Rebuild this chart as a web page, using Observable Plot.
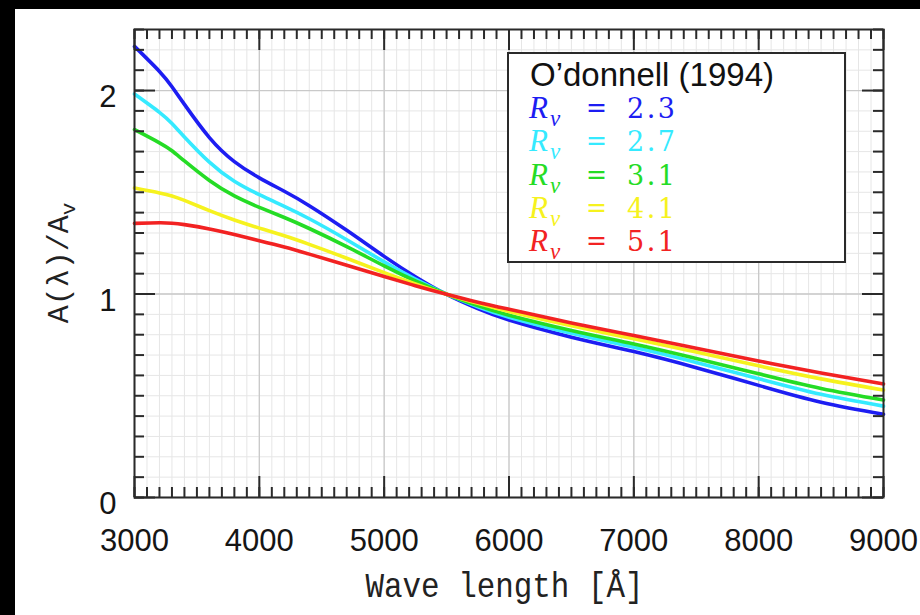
<!DOCTYPE html>
<html><head><meta charset="utf-8">
<script src="https://cdn.jsdelivr.net/npm/d3@7"></script>
<script src="https://cdn.jsdelivr.net/npm/@observablehq/plot@0.6"></script>
<style>
html,body{margin:0;padding:0;background:#000;width:920px;height:615px;overflow:hidden}
#wrap{position:absolute;left:15px;top:9px;width:905px;height:606px;background:#fff;overflow:hidden}
</style></head><body><div id="wrap"></div>
<script>
// Wavelength samples [Å]
const wavelengths = [3000,3200,3300,3400,3600,3800,4000,4200,4400,4700,5000,5250,5500,5750,6000,6500,7000,7500,8000,8500,9000];
// A(λ)/A_V read for each R_V
const rv23 = [2.217,2.094,2.019,1.932,1.769,1.651,1.571,1.505,1.434,1.313,1.185,1.085,0.998,0.928,0.872,0.788,0.717,0.638,0.551,0.468,0.409];
const rv27 = [1.983,1.893,1.838,1.772,1.648,1.554,1.488,1.431,1.370,1.267,1.158,1.073,0.999,0.937,0.886,0.807,0.738,0.664,0.584,0.507,0.449];
const rv31 = [1.808,1.743,1.704,1.654,1.558,1.482,1.426,1.376,1.322,1.233,1.138,1.064,0.999,0.943,0.896,0.821,0.754,0.683,0.608,0.536,0.479];
const rv41 = [1.521,1.497,1.482,1.460,1.410,1.364,1.324,1.286,1.244,1.176,1.105,1.050,0.999,0.954,0.914,0.844,0.780,0.715,0.647,0.583,0.528];
const rv51 = [1.347,1.350,1.348,1.341,1.320,1.292,1.262,1.231,1.196,1.141,1.086,1.041,0.999,0.960,0.925,0.858,0.796,0.734,0.671,0.612,0.558];
const rvLabels = ["2.3","2.7","3.1","4.1","5.1"];
const seriesColors = ["#1d1df2","#35eaff","#25dc25","#f6f21e","#f22222"];
const legendTitle = "O\u2019donnell (1994)";
const xLabel = "Wave length [\u00c5]";
const xMajorTicks = [3000,4000,5000,6000,7000,8000,9000];
const xMinorTicks = d3.range(30, 91).map(i => i * 100);
const yMajorTicks = [0,1,2];
const yMinorTicks = d3.range(0, 24).map(i => i / 10);

const seriesValues = [rv23, rv27, rv31, rv41, rv51];
const rows = [];
seriesValues.forEach((vals, s) => vals.forEach((v, i) => rows.push({w: wavelengths[i], v, rv: rvLabels[s]})));

const W = 905, H = 606, mL = 119, mR = 37, mT = 20, mB = 118;
const fw = W - mL - mR, fh = H - mT - mB;
const tickCol = "#2a2a2a";

const plot = Plot.plot({
  width: W, height: H,
  marginLeft: mL, marginRight: mR, marginTop: mT, marginBottom: mB,
  x: {domain: [3000, 9000]},
  y: {domain: [0, 2.3]},
  color: {domain: rvLabels, range: seriesColors},
  style: {background: "transparent", fontFamily: "'Liberation Sans', Arial, sans-serif", color: "#151515", overflow: "visible"},
  marks: [
    Plot.gridX(xMinorTicks, {stroke: "#e6e6e6", strokeOpacity: 1, strokeWidth: 1}),
    Plot.gridY(yMinorTicks, {stroke: "#e6e6e6", strokeOpacity: 1, strokeWidth: 1}),
    Plot.gridX(xMajorTicks, {stroke: "#c9c9c9", strokeOpacity: 1, strokeWidth: 1.3}),
    Plot.gridY(yMajorTicks, {stroke: "#c9c9c9", strokeOpacity: 1, strokeWidth: 1.3}),
    Plot.line(rows, {x: "w", y: "v", z: "rv", stroke: "rv", strokeWidth: 3.6, curve: "natural"}),
    Plot.tickX(xMinorTicks, {x: d => d, insetTop: fh - 10, stroke: tickCol, strokeWidth: 2}),
    Plot.tickX(xMinorTicks, {x: d => d, insetBottom: fh - 10, stroke: tickCol, strokeWidth: 2}),
    Plot.tickX(xMajorTicks, {x: d => d, insetTop: fh - 21, stroke: tickCol, strokeWidth: 2}),
    Plot.tickX(xMajorTicks, {x: d => d, insetBottom: fh - 21, stroke: tickCol, strokeWidth: 2}),
    Plot.tickY(yMinorTicks, {y: d => d, insetRight: fw - 10, stroke: tickCol, strokeWidth: 2}),
    Plot.tickY(yMinorTicks, {y: d => d, insetLeft: fw - 10, stroke: tickCol, strokeWidth: 2}),
    Plot.tickY(yMajorTicks, {y: d => d, insetRight: fw - 21, stroke: tickCol, strokeWidth: 2}),
    Plot.tickY(yMajorTicks, {y: d => d, insetLeft: fw - 21, stroke: tickCol, strokeWidth: 2}),
    Plot.frame({stroke: tickCol, strokeWidth: 2}),
    Plot.axisX(xMajorTicks, {anchor: "bottom", tickSize: 0, tickPadding: 31, fontSize: 31, label: null, tickFormat: d => String(d)}),
    Plot.axisY(yMajorTicks, {anchor: "left", tickSize: 0, tickPadding: 18, fontSize: 31, dy: 7, label: null, tickFormat: d => String(d)})
  ]
});

const svg = d3.select(plot);
// X axis title
svg.append("text")
  .attr("x", mL + fw / 2 - 4).attr("y", 588)
  .attr("text-anchor", "middle")
  .attr("font-family", "'Liberation Mono', 'DejaVu Sans Mono', monospace")
  .attr("font-size", 35)
  .attr("textLength", 278).attr("lengthAdjust", "spacingAndGlyphs")
  .attr("fill", "#222")
  .text(xLabel);
// Y axis title
const yt = svg.append("text")
  .attr("transform", `translate(53,${mT + 234}) rotate(-90)`)
  .attr("text-anchor", "middle")
  .attr("font-family", "'Liberation Mono', 'DejaVu Sans Mono', monospace")
  .attr("font-size", 30)
  .attr("fill", "#222");
yt.append("tspan").text("A(\u03bb)/A");
yt.append("tspan").attr("font-size", 21).attr("dy", 7).text("v");

// Legend box
const lg = svg.append("g").attr("text-anchor", "start");
lg.append("rect").attr("x", 493).attr("y", 44).attr("width", 337).attr("height", 209)
  .attr("fill", "#fff").attr("stroke", tickCol).attr("stroke-width", 2);
lg.append("text").attr("x", 515).attr("y", 77).attr("text-anchor", "start")
  .attr("font-family", "'Liberation Sans', Arial, sans-serif").attr("font-size", 33).attr("fill", "#111")
  .text(legendTitle);
rvLabels.forEach((lab, i) => {
  const by = 109 + i * 33.3;
  const g = lg.append("g").attr("fill", seriesColors[i]).attr("text-anchor", "start");
  g.append("text").attr("x", 514).attr("y", by)
    .attr("font-family", "'Liberation Serif', 'DejaVu Serif', serif").attr("font-style", "italic").attr("font-size", 31).text("R");
  g.append("text").attr("x", 535).attr("y", by + 8)
    .attr("font-family", "'Liberation Serif', 'DejaVu Serif', serif").attr("font-style", "italic").attr("font-size", 23).text("v");
  g.append("text").attr("x", 571).attr("y", by - 1)
    .attr("font-family", "'DejaVu Serif', serif").attr("font-size", 27).attr("textLength", 21).attr("lengthAdjust", "spacingAndGlyphs").text("=");
  g.append("text").attr("x", 612).attr("y", by)
    .attr("font-family", "'DejaVu Serif', serif").attr("font-size", 27).attr("textLength", 48).attr("lengthAdjust", "spacing").text(lab);
});

document.getElementById("wrap").appendChild(plot);
</script>
</body></html>
